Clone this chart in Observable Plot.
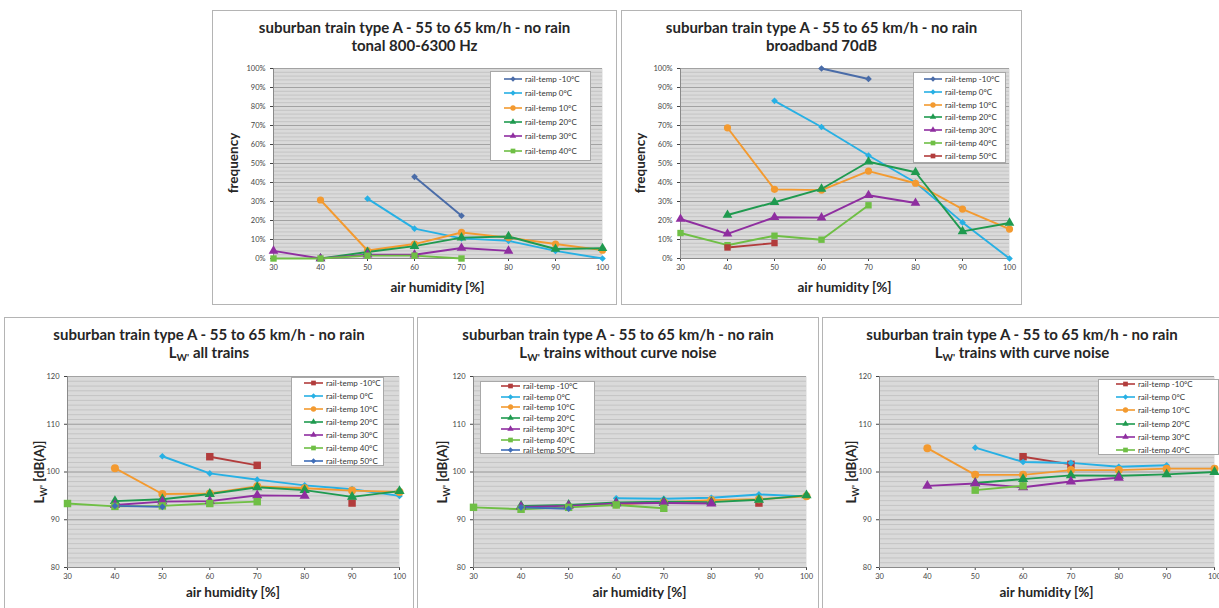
<!DOCTYPE html>
<html><head><meta charset="utf-8">
<script src="https://cdn.jsdelivr.net/npm/d3@7"></script>
<script src="https://cdn.jsdelivr.net/npm/@observablehq/plot@0.6"></script>
<style>
html,body{margin:0;padding:0;background:#fff;overflow:hidden;}
#root{position:relative;width:1219px;height:608px;overflow:hidden;font-family:Lato,"Open Sans",sans-serif;}
.box{position:absolute;border:1px solid #b4b4b4;box-sizing:border-box;}
.title{position:absolute;text-align:center;font-weight:bold;font-size:15px;line-height:18px;color:#262626;white-space:nowrap;transform:translateX(-50%);}
.xlab{position:absolute;font-weight:bold;font-size:13.5px;line-height:14px;color:#262626;transform:translate(-50%,-50%);white-space:nowrap;}
.ylab{position:absolute;font-weight:bold;font-size:13.5px;line-height:14px;color:#262626;transform:translate(-50%,-50%) rotate(-90deg);white-space:nowrap;}
.ylab sub{font-size:9px;vertical-align:-3px;line-height:0;}
.title sub{font-size:10px;vertical-align:-3px;line-height:0;}
.legend{position:absolute;background:#fff;border:1px solid #a8a8a8;box-sizing:border-box;font-size:8px;color:#333;}
.legend .row{position:absolute;display:flex;align-items:center;height:10px;white-space:nowrap;}
.plotwrap{position:absolute;}
</style></head><body><div id="root"></div><script>
// ---------- data ----------
const humidity = [30, 40, 50, 60, 70, 80, 90, 100];
const xTickLabels = [30, 40, 50, 60, 70, 80, 90, 100];
const pctTicks = [0, 10, 20, 30, 40, 50, 60, 70, 80, 90, 100];
const dbTicks = [80, 90, 100, 110, 120];
const seriesLabels = ["rail-temp -10°C", "rail-temp 0°C", "rail-temp 10°C", "rail-temp 20°C", "rail-temp 30°C", "rail-temp 40°C", "rail-temp 50°C"];

// tonal 800-6300 Hz (frequency %)
const tonalM10 = [null, null, null, 43, 22.5, null, null, null];
const tonal0   = [null, null, 31.5, 15.7, 10.6, 9.3, 4, 0];
const tonal10  = [null, 30.8, 4.2, 7.6, 13.7, 11, 7.6, 4.4];
const tonal20  = [null, 0, 3.4, 6.5, 11, 11.6, 5, 5.4];
const tonal30  = [4, 0, 2, 2, 5.5, 4, null, null];
const tonal40  = [0, 0, 1.5, 1.5, 0, null, null, null];

// broadband 70dB (frequency %)
const bbM10 = [null, null, null, 100, 94.5, null, null, null];
const bb0   = [null, null, 83, 69.2, 54.2, 40, 19, 0];
const bb10  = [null, 68.8, 36.4, 36, 46, 39.6, 26, 15.5];
const bb20  = [null, 22.9, 29.6, 36.6, 50.9, 45.4, 14.3, 18.7];
const bb30  = [20.8, 13, 21.7, 21.5, 33.3, 29.2, null, null];
const bb40  = [13.4, 7, 12, 9.9, 28, null, null, null];
const bb50  = [null, 5.8, 8.1, null, null, null, null, null];

// Lw' all trains (dB(A))
const allM10 = [null, null, null, 103.2, 101.4, null, 93.5, null];
const all0   = [null, null, 103.3, 99.7, 98.4, 97.2, 96.4, 95];
const all10  = [null, 100.8, 95.4, 95.5, 97, 96.6, 96.1, 95.8];
const all20  = [null, 93.9, 94.3, 95.4, 96.8, 96.2, 94.8, 96];
const all30  = [null, 93.1, 93.8, 93.9, 95.1, 95, null, null];
const all40  = [93.4, 92.8, 92.9, 93.4, 93.8, null, null, null];
const all50  = [null, 92.9, 92.7, null, null, null, null, null];

// Lw' trains without curve noise (dB(A))
const woM10 = [null, null, null, null, null, null, 93.5, null];
const wo0   = [null, null, null, 94.5, 94.4, 94.6, 95.3, 94.9];
const wo10  = [null, null, null, 93.2, 93.7, 94.1, 94.3, 94.9];
const wo20  = [null, 92.9, 93.1, 93.6, 93.8, 93.7, 94.2, 95.1];
const wo30  = [null, 92.7, 92.9, 93.4, 93.5, 93.4, null, null];
const wo40  = [92.6, 92.2, 92.6, 93.1, 92.4, null, null, null];
const wo50  = [null, 92.6, 92.3, null, null, null, null, null];

// Lw' trains with curve noise (dB(A))
const wcM10 = [null, null, null, 103.2, 101.6, null, null, null];
const wc0   = [null, null, 105.1, 102.1, 101.9, 101.1, 101.4, null];
const wc10  = [null, 105, 99.4, 99.4, 100.4, 100.4, 100.7, 100.7];
const wc20  = [null, null, 97.7, 98.5, 99.3, 99.2, 99.5, 100];
const wc30  = [null, 97.1, 97.6, 96.8, 98, 98.8, null, null];
const wc40  = [null, null, 96.2, 97.1, null, null, null, null];

// ---------- styles ----------
const COL = {darkblue:"#4a6ca8", cyan:"#27b0e4", orange:"#f39a30", green:"#1f9a4f", purple:"#8f2ea0", lgreen:"#6fbf45", red:"#b23c3c", blue:"#3f6db8"};
const styTop = [
  {color:COL.darkblue, symbol:"diamond2", r:3},
  {color:COL.cyan, symbol:"diamond2", r:3},
  {color:COL.orange, symbol:"circle", r:3.6},
  {color:COL.green, symbol:"triangle", r:3.6},
  {color:COL.purple, symbol:"triangle", r:3.6},
  {color:COL.lgreen, symbol:"square", r:3.6},
  {color:COL.red, symbol:"square", r:3.6}
];
const styBot = [
  {color:COL.red, symbol:"square", r:4.2},
  {color:COL.cyan, symbol:"diamond2", r:3},
  {color:COL.orange, symbol:"circle", r:4},
  {color:COL.green, symbol:"triangle", r:3.8},
  {color:COL.purple, symbol:"triangle", r:3.8},
  {color:COL.lgreen, symbol:"square", r:4.2},
  {color:COL.blue, symbol:"diamond2", r:3}
];
const symMap = {diamond2:d3.symbolDiamond2, circle:d3.symbolCircle, triangle:d3.symbolTriangle, square:d3.symbolSquare};

const root = document.getElementById("root");
function el(tag, cls, css, html){const e=document.createElement(tag); if(cls) e.className=cls; Object.assign(e.style, css||{}); if(html!=null) e.innerHTML=html; root.appendChild(e); return e;}

function panel(cfg){
  const [bx, by, bw, bh] = cfg.box;
  el("div","box",{left:bx+"px",top:by+"px",width:bw+"px",height:bh+"px"});
  const [pl, pt, pr, pb] = cfg.plot; // plot area in page coords
  const W = bw, H = bh;
  const yDom = cfg.yDomain;
  const marks = [
    Plot.frame({fill:"#dadada", stroke:null}),
    Plot.ruleY(d3.range(yDom[0], yDom[1] + 1e-9, cfg.minorStep), {stroke:"#c4c4c4", strokeWidth:1}),
    Plot.ruleY(cfg.yTicks, {stroke:"#a2a2a2", strokeWidth:1}),
    Plot.ruleX([humidity[0]], {stroke:"#8a8a8a"}),
    Plot.ruleY([yDom[0]], {stroke:"#8a8a8a"})
  ];
  cfg.series.forEach((vals, i) => {
    const s = cfg.styles[i];
    const rows = humidity.map((h, j) => ({x:h, y:vals[j]}));
    marks.push(Plot.line(rows, {x:"x", y:"y", stroke:s.color, strokeWidth:1.9}));
  });
  cfg.series.forEach((vals, i) => {
    const s = cfg.styles[i];
    const rows = humidity.map((h, j) => ({x:h, y:vals[j]})).filter(d => d.y != null);
    marks.push(Plot.dot(rows, {x:"x", y:"y", fill:s.color, stroke:"none", symbol:s.symbol, r:s.r}));
  });
  const svg = Plot.plot({
    width:W, height:H,
    marginLeft:pl-bx, marginTop:pt-by, marginRight:(bx+bw)-pr, marginBottom:(by+bh)-pb,
    style:{background:"transparent", fontFamily:"Lato, 'Open Sans', sans-serif", fontSize:"7.5px", color:"#444", overflow:"visible"},
    x:{domain:[30,100], ticks:xTickLabels, tickFormat:d=>String(d), tickSize:3, tickPadding:3, label:null},
    y:{domain:yDom, ticks:cfg.yTicks, tickFormat:cfg.yFmt, tickSize:3, tickPadding:5, label:null},
    marks
  });
  const wrap = el("div","plotwrap",{left:bx+"px",top:by+"px",width:W+"px",height:H+"px"});
  wrap.appendChild(svg);
  const cx = bx + bw/2;
  el("div","title",{left:cx+"px",top:(by+8)+"px"}, cfg.title);
  el("div","xlab",{left:((pl+pr)/2)+"px",top:cfg.xlabY+"px"}, "air humidity [%]");
  el("div","ylab",{left:cfg.ylabX+"px",top:((pt+pb)/2)+"px"}, cfg.ylab);
  // legend
  const L = cfg.legend;
  const lg = el("div","legend",{left:L.x+"px",top:L.y+"px",width:L.w+"px",height:L.h+"px"});
  cfg.legendLabels.forEach((lab, i) => {
    const s = cfg.styles[i];
    const row = document.createElement("div");
    row.className = "row";
    Object.assign(row.style, {left:L.sx+"px", top:(L.row0 - L.y + i*L.step - 6)+"px"});
    const sz = s.symbol === "circle" || s.symbol === "square" ? 22 : 18;
    const path = d3.symbol(symMap[s.symbol], sz)();
    row.innerHTML = `<svg width="${L.sw+2}" height="10" style="display:block"><line x1="0" y1="5" x2="${L.sw}" y2="5" stroke="${s.color}" stroke-width="1.6"/><path d="${path}" transform="translate(${L.sw/2},5)" fill="${s.color}"/></svg><span style="margin-left:1px">${lab}</span>`;
    lg.appendChild(row);
  });
}

const pctFmt = d => d + "%";
const dbFmt = d => String(d);

panel({
  box:[212,10,405,295], plot:[273,68,602,258],
  yDomain:[0,100], yTicks:pctTicks, yFmt:pctFmt, minorStep:2,
  series:[tonalM10, tonal0, tonal10, tonal20, tonal30, tonal40], styles:styTop,
  legendLabels:seriesLabels.slice(0,6),
  title:"suburban train type A - 55 to 65 km/h - no rain<br>tonal 800-6300 Hz",
  ylab:"frequency", ylabX:233, xlabY:287,
  legend:{x:490, y:71, w:101, h:90, row0:79, step:14.3, sx:13, sw:18}
});
panel({
  box:[621,10,401,295], plot:[680,68,1009,258],
  yDomain:[0,100], yTicks:pctTicks, yFmt:pctFmt, minorStep:2,
  series:[bbM10, bb0, bb10, bb20, bb30, bb40, bb50], styles:styTop,
  legendLabels:seriesLabels,
  title:"suburban train type A - 55 to 65 km/h - no rain<br>broadband 70dB",
  ylab:"frequency", ylabX:640, xlabY:287,
  legend:{x:913, y:72, w:93, h:91, row0:79, step:12.8, sx:10, sw:18}
});
panel({
  box:[4,317,410,300], plot:[67,376,399,567],
  yDomain:[80,120], yTicks:dbTicks, yFmt:dbFmt, minorStep:1,
  series:[allM10, all0, all10, all20, all30, all40, all50], styles:styBot,
  legendLabels:seriesLabels,
  title:"suburban train type A - 55 to 65 km/h - no rain<br>L<sub>W'</sub> all trains",
  ylab:"L<sub>W'</sub> [dB(A)]", ylabX:39, xlabY:592,
  legend:{x:291, y:377, w:93, h:89, row0:383, step:13, sx:12, sw:19}
});
panel({
  box:[417,317,402,300], plot:[473,376,806,567],
  yDomain:[80,120], yTicks:dbTicks, yFmt:dbFmt, minorStep:1,
  series:[woM10, wo0, wo10, wo20, wo30, wo40, wo50], styles:styBot,
  legendLabels:seriesLabels,
  title:"suburban train type A - 55 to 65 km/h - no rain<br>L<sub>W'</sub> trains without curve noise",
  ylab:"L<sub>W'</sub> [dB(A)]", ylabX:442, xlabY:592,
  legend:{x:480, y:381, w:115, h:73, row0:386, step:10.7, sx:20, sw:19}
});
panel({
  box:[822,317,400,300], plot:[879,376,1214,567],
  yDomain:[80,120], yTicks:dbTicks, yFmt:dbFmt, minorStep:1,
  series:[wcM10, wc0, wc10, wc20, wc30, wc40], styles:styBot,
  legendLabels:seriesLabels.slice(0,6),
  title:"suburban train type A - 55 to 65 km/h - no rain<br>L<sub>W'</sub> trains with curve noise",
  ylab:"L<sub>W'</sub> [dB(A)]", ylabX:851, xlabY:592,
  legend:{x:1098, y:379, w:121, h:76, row0:384, step:13.2, sx:17, sw:19}
});
</script></body></html>
